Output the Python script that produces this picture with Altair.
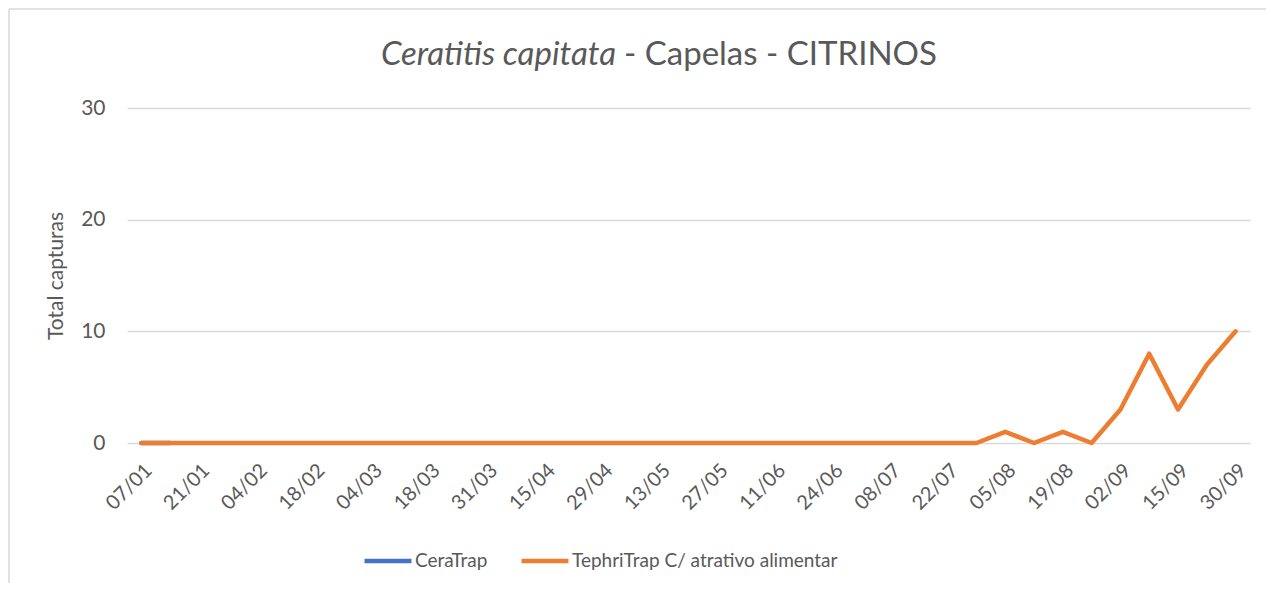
import altair as alt
import pandas as pd

dates = ["07/01", "14/01", "21/01", "28/01", "04/02", "11/02", "18/02", "25/02",
         "04/03", "11/03", "18/03", "25/03", "31/03", "08/04", "15/04", "22/04",
         "29/04", "06/05", "13/05", "20/05", "27/05", "03/06", "11/06", "17/06",
         "24/06", "01/07", "08/07", "15/07", "22/07", "29/07", "05/08", "12/08",
         "19/08", "26/08", "02/09", "09/09", "15/09", "23/09", "30/09"]
ceratrap = [0, 0] + [None] * 37
tephritrap = [0] * 30 + [1, 0, 1, 0, 3, 8, 3, 7, 10]
series_names = ["CeraTrap", "TephriTrap C/ atrativo alimentar"]
series_colors = ["#4472C4", "#ED7D31"]
tick_labels = dates[::2]
title_italic = "Ceratitis capitata"
title_rest = "- Capelas - CITRINOS"

FONT = "Lato"
GREY = "#595959"

rows = []
for name, vals in zip(series_names, [ceratrap, tephritrap]):
    for d, v in zip(dates, vals):
        rows.append({"date": d, "value": v, "series": name})
df = pd.DataFrame(rows)

color = alt.Color(
    "series:N",
    scale=alt.Scale(domain=series_names, range=series_colors),
    legend=alt.Legend(
        title=None, orient="none", direction="horizontal",
        legendX=235, legendY=427,
        symbolType="stroke", symbolSize=2200, symbolStrokeWidth=4.5,
        labelFont=FONT, labelFontSize=19, labelColor=GREY,
        labelOffset=1, columnPadding=24, labelLimit=500,
    ),
)
x = alt.X("date:O", sort=dates, scale=alt.Scale(padding=0.5),
          axis=alt.Axis(values=tick_labels, labelAngle=-45, title=None,
                        labelFont=FONT, labelFontSize=20, labelColor=GREY,
                        ticks=False, domain=False, labelPadding=17, grid=False))
y = alt.Y("value:Q", scale=alt.Scale(domain=[0, 30]),
          axis=alt.Axis(values=[0, 10, 20, 30], title="Total capturas",
                        titleFont=FONT, titleFontSize=21, titleColor=GREY,
                        titleFontWeight="normal", titlePadding=14,
                        labelFont=FONT, labelFontSize=21, labelColor=GREY,
                        labelPadding=22, ticks=False, domain=False,
                        gridColor="#D9D9D9", gridWidth=1.3))

base = alt.Chart(df).mark_line(strokeWidth=4.5, strokeCap="round", strokeJoin="round")
blue = base.transform_filter(alt.datum.series == series_names[0]).encode(x=x, y=y, color=color)
orange = base.transform_filter(alt.datum.series == series_names[1]).encode(x=x, y=y, color=color)

t_df = pd.DataFrame({"a": [title_italic], "b": [title_rest]})
t1 = alt.Chart(t_df).mark_text(font=FONT, fontSize=33, fontStyle="italic", color=GREY,
                                align="right", baseline="middle").encode(
    text="a:N", x=alt.value(489), y=alt.value(-53))
t2 = alt.Chart(t_df).mark_text(font=FONT, fontSize=33, color=GREY,
                                align="left", baseline="middle", dx=8).encode(
    text="b:N", x=alt.value(489), y=alt.value(-53))

border_top = alt.Chart(t_df).mark_rule(color="#D9D9D9", strokeWidth=1.5).encode(
    x=alt.value(-118), x2=alt.value(1140), y=alt.value(-99))
border_left = alt.Chart(t_df).mark_rule(color="#D9D9D9", strokeWidth=1.5).encode(
    x=alt.value(-118), y=alt.value(-99), y2=alt.value(475))

chart = alt.layer(border_top, border_left, blue, orange, t1, t2).properties(
    width=1123, height=335,
    padding={"left": 119, "top": 100, "right": 16, "bottom": 140},
    autosize=alt.AutoSizeParams(type="none"),
    background="white",
).configure_view(stroke=None)

chart.save("out.html", embed_options={"renderer": "svg", "actions": False})
